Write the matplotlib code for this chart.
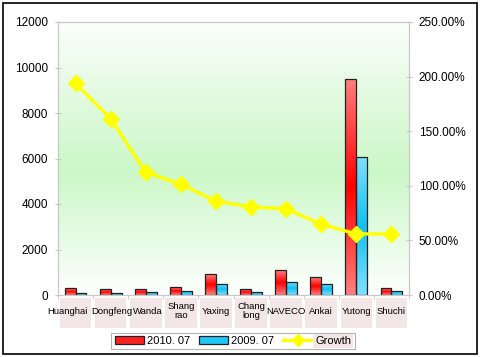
import numpy as np
import matplotlib
matplotlib.use("Agg")
import matplotlib.pyplot as plt
from matplotlib.patches import Rectangle, Patch
from matplotlib.lines import Line2D
from matplotlib.colors import LinearSegmentedColormap
from matplotlib.ticker import FuncFormatter

plt.rcParams['font.family'] = ['Liberation Sans', 'DejaVu Sans']

categories = ["Huanghai", "Dongfeng", "Wanda", "Shang\nrao", "Yaxing",
              "Chang\nlong", "NAVECO", "Ankai", "Yutong", "Shuchi"]
sales_2010 = [290, 250, 250, 340, 920, 250, 1085, 790, 9510, 290]
sales_2009 = [75, 75, 120, 160, 500, 130, 585, 500, 6065, 160]
growth = [193.8, 161.4, 112.5, 101.5, 85.9, 80.7, 78.9, 64.8, 55.9, 55.9]
series_labels = ["2010. 07", "2009. 07", "Growth"]

# layout only: horizontal nudges of category labels (in category units)
label_nudge = [-0.22, 0.03, 0.05, 0, 0, 0, 0, 0, 0, 0]

W, H = 480, 357
fig = plt.figure(figsize=(W / 100, H / 100), dpi=100)
fig.patch.set_facecolor("white")
fig.patches.append(Rectangle((3 / W, 3 / H), 474 / W, 351 / H, transform=fig.transFigure,
                             fill=False, edgecolor="black", linewidth=1.2))

ax = fig.add_axes([58 / W, 1 - 295 / H, 351 / W, 273 / H])
n = len(categories)

bg = LinearSegmentedColormap.from_list("bg", [(0, "#fdfffd"), (0.45, "#ccf8c8"), (0.75, "#e4fae2"), (1, "#fbfffb")])
grad = np.linspace(1, 0, 256).reshape(-1, 1)
ax.imshow(grad, cmap=bg, aspect="auto", extent=(-0.5, n - 0.5, 0, 12000),
          zorder=0, vmin=0, vmax=1)

x = np.arange(n)
bw = 0.31
red_cm = LinearSegmentedColormap.from_list("r", ["#ff8080", "#ff0000", "#ff8080"])
blue_cm = LinearSegmentedColormap.from_list("b", ["#80e0ff", "#10c0f0", "#80e0ff"])
vgrad = np.linspace(0, 1, 128).reshape(-1, 1)
for vals, off, cm in [(sales_2010, -bw / 2, red_cm), (sales_2009, bw / 2, blue_cm)]:
    bars = ax.bar(x + off, vals, width=bw, facecolor="none", edgecolor="#222222",
                  linewidth=0.9, zorder=3)
    for b in bars:
        x0, y0 = b.get_x(), b.get_y()
        im = ax.imshow(vgrad, cmap=cm, aspect="auto",
                       extent=(x0, x0 + b.get_width(), y0, y0 + b.get_height()), zorder=2)
        im.set_clip_path(b)

ax.set_xlim(-0.5, n - 0.5)
ax.set_ylim(0, 12000)

for s in ax.spines.values():
    s.set_color("#c8c8c8")
ax.set_yticks(np.arange(0, 12001, 2000))
ax.tick_params(axis="y", labelsize=8.5, colors="#c8c8c8", labelcolor="black",
               length=4, direction="inout", pad=5)
ax.set_xticks(np.arange(-0.5, n, 1), minor=True)
ax.set_xticks(x)
ax.set_xticklabels([])
ax.tick_params(axis="x", which="major", length=0)
ax.tick_params(axis="x", which="minor", length=3, colors="#c8c8c8")

for i, c in enumerate(categories):
    ax.add_patch(Rectangle((i - 0.45, -0.12), 0.9, 0.11, transform=ax.get_xaxis_transform(),
                           facecolor="#f3e6e6", edgecolor="none", clip_on=False, zorder=1))
    ax.text(i + label_nudge[i], -0.06, c, transform=ax.get_xaxis_transform(), ha="center",
            va="center", fontsize=6.8, linespacing=1.0)

ax2 = ax.twinx()
ax2.set_ylim(0, 250)
ax2.plot(x, growth, color="#ffff00", linewidth=2.4, marker="D", markersize=8,
         markerfacecolor="#ffff00", markeredgecolor="#ffff00", zorder=5)
ax2.set_yticks(np.arange(0, 251, 50))
ax2.yaxis.set_major_formatter(FuncFormatter(lambda v, p: f"{v:.2f}%"))
ax2.tick_params(axis="y", labelsize=8.5, colors="#c8c8c8", labelcolor="black",
                length=4, direction="inout", pad=5)
for s in ax2.spines.values():
    s.set_color("#c8c8c8")

handles = [Patch(facecolor="#ff2020", edgecolor="#222222", linewidth=0.9),
           Patch(facecolor="#20c8f8", edgecolor="#222222", linewidth=0.9),
           Line2D([], [], color="#ffff00", linewidth=2.4, marker="D", markersize=6)]
leg = fig.legend(handles, series_labels, loc="center", bbox_to_anchor=(233 / W, 1 - 341 / H),
                 ncol=3, fontsize=8, frameon=True, fancybox=False, edgecolor="#a0a0a0",
                 handlelength=2.6, handleheight=0.7, handletextpad=0.3, columnspacing=0.8,
                 borderpad=0.3)
leg.get_frame().set_linewidth(0.8)
leg.texts[2].set_bbox(dict(facecolor="#f3e6e6", edgecolor="none", pad=1.5))

fig.savefig("out.png", dpi=100)
